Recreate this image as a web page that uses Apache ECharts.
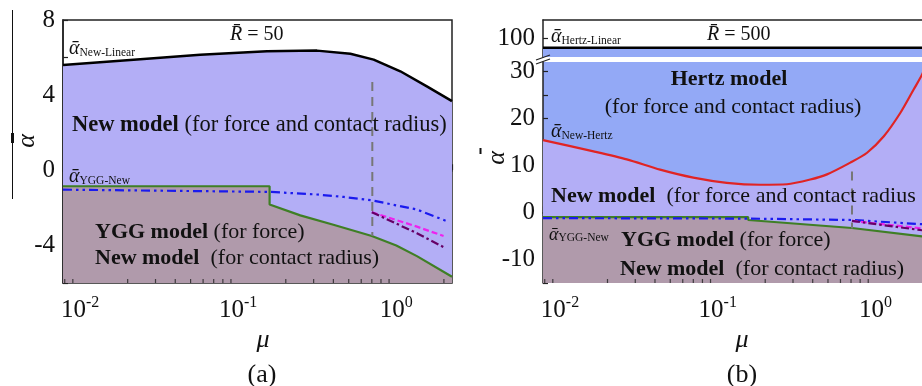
<!DOCTYPE html>
<html><head><meta charset="utf-8">
<script src="https://cdn.jsdelivr.net/npm/echarts@6/dist/echarts.min.js"></script>
<style>html,body{margin:0;padding:0;background:#fff}#c{width:922px;height:386px}</style>
</head><body><div id="c"></div>
<script>
// ---------- shared x range (mu, log scale) ----------
const muMin = 0.0078, muMax = 2.25;
const minorTickMu = [0.008, 0.009, 0.02, 0.03, 0.04, 0.05, 0.06, 0.07, 0.08, 0.09,
  0.2, 0.3, 0.4, 0.5, 0.6, 0.7, 0.8, 0.9, 2];

// ---------- panel (a): R = 50 ----------
const muLinA    = [0.0078, 0.0218, 0.0575, 0.152, 0.315, 0.512, 0.719, 1.06, 1.56, 2.25];
const alphaLinA = [5.6, 5.89, 6.15, 6.33, 6.37, 6.2, 5.89, 5.27, 4.47, 3.68];
const muYggA    = [0.0078, 0.158, 0.158, 0.247, 0.4, 0.7, 1.0, 1.35, 2.25];
const alphaYggA = [-0.85, -0.85, -1.82, -2.4, -2.9, -3.5, -4.0, -4.57, -5.67];
const muBlueA   = [0.0078, 0.158, 0.315, 0.467, 0.70, 1.35, 2.09];
const alphaBlueA= [-1.03, -1.15, -1.29, -1.42, -1.6, -2.09, -2.71];
const muEndA    = [0.70, 1.35, 1.99];
const alphaMagA = [-2.23, -3.0, -3.5];
const alphaPurA = [-2.23, -3.35, -4.09];
const muVLineA  = [0.705, 0.705];
const alphaVLineA = [4.7, -3.5];
const yTicksA = [-6, -4, -2, 0, 2, 4, 6, 8];
const yLabelsA = [-4, 0, 4, 8];

// ---------- panel (b): R = 500 ----------
const muHL = [0.0078, 2.25];
const alphaHL = [95, 95];
const muNH = [0.0078, 0.0163, 0.0265, 0.0431, 0.070, 0.114, 0.186, 0.275, 0.386, 0.493, 0.693, 0.885, 1.13, 1.44, 1.75, 1.98, 2.25];
const alphaNH = [15.4, 13.0, 11.3, 9.1, 7.4, 6.3, 5.9, 6.0, 7.0, 8.1, 10.6, 12.7, 16.2, 21.2, 26.2, 29.4, 34];
const muYggB    = [0.0078, 0.156, 0.156, 0.71, 1.99, 2.25];
const alphaYggB = [-1.0, -1.0, -1.6, -3.3, -5.1, -5.4];
const muBlueB   = [0.0078, 0.156, 0.71, 1.99, 2.25];
const alphaBlueB= [-1.2, -1.3, -1.6, -2.5, -2.7];
const muEndB    = [0.71, 1.99, 2.25];
const alphaMagB = [-1.8, -3.4, -3.7];
const alphaPurB = [-1.8, -3.8, -4.2];
const muVLineB  = [0.71, 0.71];
const alphaVLineB = [8.7, -3.4];
const yTicksBUp = [100];
const yTicksB = [-15, -10, -5, 0, 5, 10, 15, 20, 25, 30];
const yLabelsB = [-10, 0, 10, 20, 30];

// ---------- style ----------
const FONT = 'Liberation Serif';
const C_PURPLE = '#b3aef6', C_MAUVE = '#b09aab', C_BLUE = '#93a9f6';
const C_GREEN = '#3f7f25', C_BLUEL = '#1a1aee', C_MAG = '#ee22ee', C_PUR = '#660066', C_RED = '#e02424';
const FRAME = '#222';

const pts = (xs, ys) => xs.map((x, i) => [x, ys[i]]);

const xLabelRich = {
  b: { fontFamily: FONT, fontSize: 25, color: '#111', verticalAlign: 'bottom', lineHeight: 28 },
  s: { fontFamily: FONT, fontSize: 16, color: '#111', verticalAlign: 'top', lineHeight: 14 }
};
const xFmt = v => {
  const e = Math.log10(v), r = Math.round(e);
  if (Math.abs(e - r) > 1e-6) return '';
  return '{b|10}{s|' + r + '}';
};
function xAxisMain(grid) {
  return {
    type: 'log', logBase: 10, gridIndex: grid, min: muMin, max: muMax,
    axisLine: { show: true, lineStyle: { color: FRAME, width: 1.5 } },
    axisTick: { show: true, inside: true, length: 6, lineStyle: { color: FRAME, width: 1.2 } },
    axisLabel: { formatter: xFmt, rich: xLabelRich, margin: 12 },
    splitLine: { show: false }, minorTick: { show: false }
  };
}
function yAxisDef(grid, min, max, interval, ticks, labels) {
  return {
    type: 'value', gridIndex: grid, min: min, max: max, interval: interval,
    axisLine: { show: true, lineStyle: { color: FRAME, width: 1.5 } },
    axisTick: { show: true, inside: true, length: 5, customValues: ticks, lineStyle: { color: FRAME, width: 1.2 } },
    axisLabel: { customValues: labels, formatter: v => (labels.indexOf(v) >= 0 ? String(v) : ''),
      fontFamily: FONT, fontSize: 25, color: '#111', margin: 8 },
    splitLine: { show: false }
  };
}
function line(xi, yi, xs, ys, color, width, type, area, z) {
  const s = {
    type: 'line', xAxisIndex: xi, yAxisIndex: yi, data: pts(xs, ys), symbol: 'none',
    lineStyle: { color: color, width: width, type: type || 'solid' }, z: z || 3, silent: true
  };
  if (area) s.areaStyle = { color: area, opacity: 1, origin: 'start' };
  return s;
}
function minorTicks(xi, yi, yMin) {
  return {
    type: 'scatter', xAxisIndex: xi, yAxisIndex: yi, data: minorTickMu.map(m => [m, yMin]),
    symbol: 'rect', symbolSize: [1.2, 4], symbolOffset: [0, -2], itemStyle: { color: FRAME },
    clip: false, silent: true, z: 6
  };
}

// text helpers
function txt(x, y, text, size, opts) {
  opts = opts || {};
  return {
    type: 'text', x: x, y: y, z: 100, silent: true, rotation: opts.rotation || 0,
    style: {
      text: text, fontFamily: FONT, fontSize: size, fontStyle: opts.italic ? 'italic' : 'normal',
      fontWeight: opts.bold ? 'bold' : 'normal', fill: '#111', align: opts.align || 'left',
      verticalAlign: 'middle', rich: opts.rich
    }
  };
}
const richModel = (size) => ({
  b: { fontFamily: FONT, fontSize: size, fontWeight: 'bold', fill: '#111' },
  n: { fontFamily: FONT, fontSize: size, fill: '#111' }
});
const richAlpha = (a, s) => ({
  a: { fontFamily: FONT, fontSize: a, fontStyle: 'italic', fill: '#111', verticalAlign: 'bottom', lineHeight: a + 2 },
  s: { fontFamily: FONT, fontSize: s, fill: '#111', verticalAlign: 'bottom', lineHeight: s + 1 }
});
const richR = (size) => ({
  i: { fontFamily: FONT, fontSize: size, fontStyle: 'italic', fill: '#111' },
  n: { fontFamily: FONT, fontSize: size, fill: '#111' }
});
function seg(x1, y1, x2, y2, w, color) {
  return { type: 'line', z: 100, silent: true, shape: { x1: x1, y1: y1, x2: x2, y2: y2 },
    style: { stroke: color || FRAME, lineWidth: w } };
}

const graphics = [
  // panel (a)
  txt(230, 35, '{i|R\u0304}{n| = 50}', 20, { rich: richR(20) }),
  txt(69, 48, '{a|\u1FB1}{s|New-Linear}', 11.5, { rich: richAlpha(20, 11.5) }),
  txt(72, 125, '{b|New model}{n| (for force and contact radius)}', 22.5, { rich: richModel(22.5) }),
  txt(69, 176, '{a|\u1FB1}{s|YGG-New}', 11.5, { rich: richAlpha(20, 11.5) }),
  txt(95, 232, '{b|YGG model}{n| (for force)}', 22, { rich: richModel(22) }),
  txt(95, 258, '{b|New model}{n|  (for contact radius)}', 22, { rich: richModel(22) }),
  txt(263, 340, '\u03BC', 26, { italic: true, align: 'center' }),
  txt(262, 375, '(a)', 26, { align: 'center' }),
  txt(27, 141, '\u03B1', 26, { italic: true, align: 'center', rotation: Math.PI / 2 }),
  seg(12.5, 10, 12.5, 199, 1, '#111'),
  seg(12.5, 133, 12.5, 143, 3, '#111'),
  // panel (b)
  txt(551, 36, '{a|\u1FB1}{s|Hertz-Linear}', 11.5, { rich: richAlpha(20, 11.5) }),
  txt(707, 35, '{i|R\u0304}{n| = 500}', 20, { rich: richR(20) }),
  txt(729, 79, 'Hertz model', 22, { bold: true, align: 'center' }),
  txt(733, 107, '(for force and contact radius)', 22, { align: 'center' }),
  txt(551, 131, '{a|\u1FB1}{s|New-Hertz}', 11.5, { rich: richAlpha(20, 11.5) }),
  txt(551, 196, '{b|New model}{n|  (for force and contact radius}', 22, { rich: richModel(22) }),
  txt(549, 234, '{a|\u1FB1}{s|YGG-New}', 11.5, { rich: richAlpha(18, 11.5) }),
  txt(621, 240, '{b|YGG model}{n| (for force)}', 22, { rich: richModel(22) }),
  txt(620, 269, '{b|New model}{n|  (for contact radius)}', 22, { rich: richModel(22) }),
  txt(742, 340, '\u03BC', 26, { italic: true, align: 'center' }),
  txt(742, 375, '(b)', 26, { align: 'center' }),
  txt(497, 158, '\u03B1', 26, { italic: true, align: 'center', rotation: Math.PI / 2 }),
  seg(480.5, 148, 480.5, 154, 2, '#111'),
  // break marks
  seg(536, 60, 550, 55, 1.3),
  seg(536, 64, 550, 59, 1.3)
];

const gridBase = { containLabel: false, outerBoundsMode: 'none' };
const option = {
  animation: false,
  backgroundColor: '#fff',
  grid: [
    Object.assign({ left: 63, top: 20, width: 389, height: 263, show: true, borderColor: FRAME, borderWidth: 1.5, backgroundColor: '#fff' }, gridBase),
    Object.assign({ left: 543, top: 20, width: 388, height: 37, show: true, borderWidth: 0, backgroundColor: '#fff' }, gridBase),
    Object.assign({ left: 543, top: 62, width: 388, height: 221, show: true, borderWidth: 0, backgroundColor: C_BLUE }, gridBase)
  ],
  xAxis: [
    xAxisMain(0),
    { type: 'log', logBase: 10, gridIndex: 1, min: muMin, max: muMax, position: 'top',
      axisLine: { show: true, lineStyle: { color: FRAME, width: 1.5 } },
      axisTick: { show: false }, axisLabel: { show: false }, splitLine: { show: false } },
    xAxisMain(2)
  ],
  yAxis: [
    yAxisDef(0, -6, 8, 2, yTicksA, yLabelsA),
    yAxisDef(1, 90, 110, 10, yTicksBUp, [100]),
    yAxisDef(2, -15, 32, 5, yTicksB, yLabelsB)
  ],
  series: [
    // (a)
    line(0, 0, muLinA, alphaLinA, '#000', 2.5, 'solid', C_PURPLE, 3),
    line(0, 0, muYggA, alphaYggA, C_GREEN, 2.2, 'solid', C_MAUVE, 4),
    line(0, 0, muBlueA, alphaBlueA, C_BLUEL, 2.2, [9, 4, 2.5, 4, 2.5, 4], null, 5),
    line(0, 0, muEndA, alphaMagA, C_MAG, 2.2, [6, 3], null, 5),
    line(0, 0, muEndA, alphaPurA, C_PUR, 2.2, [8, 3, 2.5, 3], null, 5),
    line(0, 0, muVLineA, alphaVLineA, '#777', 2, [9, 6], null, 5),
    minorTicks(0, 0, -6),
    // (b) upper
    line(1, 1, muHL, alphaHL, '#000', 2.5, 'solid', C_BLUE, 3),
    // (b) lower
    Object.assign(line(2, 2, muNH, alphaNH, C_RED, 2.2, 'solid', C_PURPLE, 3), { smooth: 0.25 }),
    line(2, 2, muYggB, alphaYggB, C_GREEN, 2.2, 'solid', C_MAUVE, 4),
    line(2, 2, muBlueB, alphaBlueB, C_BLUEL, 2.2, [9, 4, 2.5, 4, 2.5, 4], null, 5),
    line(2, 2, muEndB, alphaMagB, C_MAG, 2.2, [6, 3], null, 5),
    line(2, 2, muEndB, alphaPurB, C_PUR, 2.2, [8, 3, 2.5, 3], null, 5),
    line(2, 2, muVLineB, alphaVLineB, '#777', 2, [9, 8], null, 5),
    minorTicks(2, 2, -15)
  ],
  graphic: graphics
};
const chart = echarts.init(document.getElementById('c'));
chart.setOption(option);
</script>
</body></html>
